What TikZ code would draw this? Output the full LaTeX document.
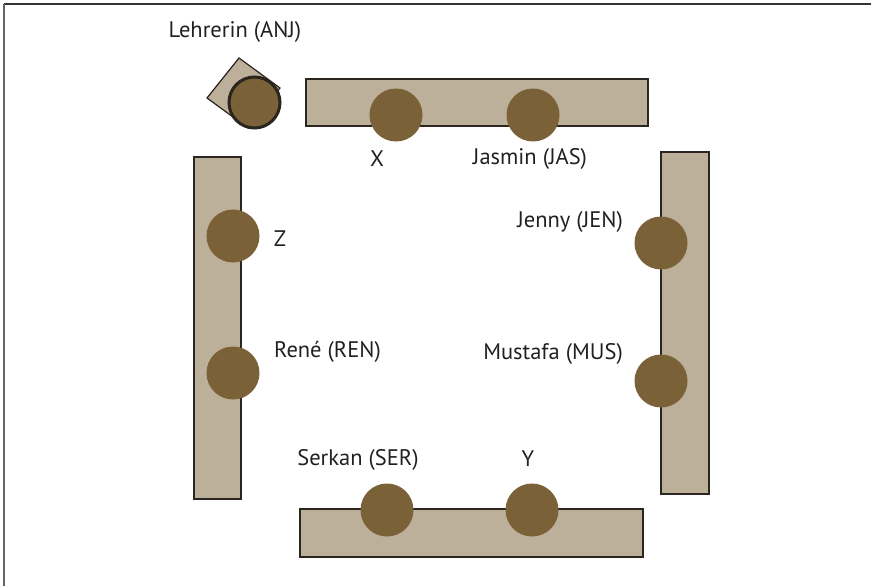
\documentclass[tikz,border=0pt]{standalone}
\usepackage{fontspec}
\setmainfont{PT Sans}
\begin{document}
\begin{tikzpicture}[x=1pt,y=-1pt,
  table/.style={draw=tabline,line width=1.5pt,fill=tablefill},
  pupil/.style={circle,fill=pupilfill,minimum size=53pt,inner sep=0pt},
  lbl/.style={font=\fontsize{22.5}{26}\selectfont,text=textcol,inner sep=0pt}]
\definecolor{tablefill}{HTML}{BCB09A}
\definecolor{tabline}{HTML}{2B2520}
\definecolor{pupilfill}{HTML}{7B6138}
\definecolor{textcol}{HTML}{231F20}
\useasboundingbox (0,0) rectangle (871,586);
% frame
\draw[line width=2pt,color=black!80] (4,4) -- (871,4);
\draw[line width=2pt,color=black!60] (4,4) -- (4,586);
% tables
\draw[table] (306,79) rectangle (648,126);
\draw[table] (194,157) rectangle (241,499);
\draw[table] (661,152) rectangle (709,494);
\draw[table] (300,509) rectangle (643,557);
% teacher
\draw[table,line width=1.2pt] (239,58) -- (207,98) -- (248,128) -- (280,88) -- cycle;
\node[pupil,draw=tabline,line width=3pt,minimum size=51pt] (anj) at (254.5,102.5) {};
% pupils
\node[pupil] (x) at (396,115) {};
\node[pupil] (jas) at (533,115) {};
\node[pupil] (z) at (233,236) {};
\node[pupil] (ren) at (233,373) {};
\node[pupil] (jen) at (661,243) {};
\node[pupil] (mus) at (661,381) {};
\node[pupil] (ser) at (387,510) {};
\node[pupil] (y) at (532,510) {};
% labels
\node[lbl] (lanj) at (235,32) {Lehrerin (ANJ)};
\node[lbl] (lx) at (377,159) {X};
\node[lbl] (ljas) at (530,159) {Jasmin (JAS)};
\node[lbl] (lz) at (280,239) {Z};
\node[lbl,anchor=west] (lren) at (274,352) {René (REN)};
\node[lbl,anchor=east] (ljen) at (623,222) {Jenny (JEN)};
\node[lbl,anchor=east] (lmus) at (623,354) {Mustafa (MUS)};
\node[lbl] (lser) at (358,460) {Serkan (SER)};
\node[lbl] (ly) at (528,459) {Y};
\end{tikzpicture}
\end{document}
